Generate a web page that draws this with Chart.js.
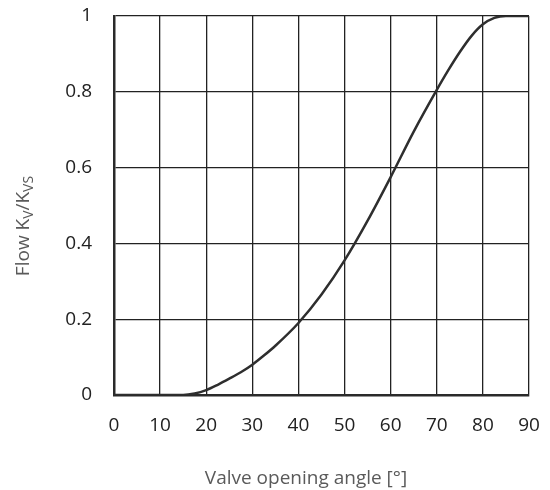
<!DOCTYPE html>
<html>
<head>
<meta charset="utf-8">
<script src="https://cdn.jsdelivr.net/npm/chart.js@4/dist/chart.umd.min.js"></script>
<style>
  html, body { margin: 0; padding: 0; background: #fff; }
  #wrap { width: 550px; height: 490px; }
</style>
</head>
<body>
<div id="wrap"><canvas id="flowChart"></canvas></div>
<script>
// valve opening angle [°] and relative flow Kv/Kvs
var angles = [0, 5, 10, 15, 17.5, 20, 22.5, 25, 27.5, 30, 32.5, 35, 40, 45, 50, 55, 60, 65, 70, 72.5, 75, 77.5, 80, 82.5, 85, 90];
var flow   = [0, 0, 0, 0, 0.004, 0.013, 0.027, 0.043, 0.06, 0.08, 0.104, 0.13, 0.19, 0.265, 0.355, 0.46, 0.575, 0.695, 0.805, 0.857, 0.905, 0.947, 0.978, 0.995, 1, 1];

var xTitle = 'Valve opening angle [°]';
// y title pieces: [text, subscript?]
var yTitle = [['Flow K', false], ['V', true], ['/K', false], ['VS', true]];

var points = angles.map(function (a, i) { return { x: a, y: flow[i] }; });

var FONT = '"Open Sans", "Noto Sans", sans-serif';

// draws the axis titles (the y one has subscripts)
var titlesPlugin = {
  id: 'axisTitles',
  afterDraw: function (chart) {
    var ctx = chart.ctx;
    ctx.save();
    ctx.fillStyle = '#5a5a5a';
    ctx.font = '19px ' + FONT;
    ctx.textAlign = 'center';
    ctx.textBaseline = 'middle';
    ctx.fillText(xTitle, 306, 479);

    // y title, rotated
    var big = '19px ' + FONT, small = '14px ' + FONT;
    var total = 0;
    yTitle.forEach(function (p) {
      ctx.font = p[1] ? small : big;
      total += ctx.measureText(p[0]).width;
    });
    ctx.translate(29, 226);
    ctx.rotate(-Math.PI / 2);
    ctx.textAlign = 'left';
    ctx.textBaseline = 'alphabetic';
    var x = -total / 2;
    yTitle.forEach(function (p) {
      ctx.font = p[1] ? small : big;
      ctx.fillText(p[0], x, p[1] ? 4 : 0);
      x += ctx.measureText(p[0]).width;
    });
    ctx.restore();
  }
};

var ctx = document.getElementById('flowChart').getContext('2d');
var myChart = new Chart(ctx, {
  type: 'line',
  data: {
    datasets: [{
      data: points,
      borderColor: '#2e2e2e',
      borderWidth: 2.5,
      pointRadius: 0,
      fill: false,
      cubicInterpolationMode: 'monotone'
    }]
  },
  options: {
    responsive: true,
    maintainAspectRatio: false,
    animation: false,
    layout: { padding: { left: 0, right: 21, top: 16, bottom: 0 } },
    plugins: {
      legend: { display: false },
      tooltip: { enabled: false }
    },
    scales: {
      x: {
        type: 'linear',
        min: 0,
        max: 90,
        ticks: { stepSize: 10, color: '#222', padding: 19, font: { family: FONT, size: 19 } },
        grid: { color: '#222', lineWidth: 1.3, drawTicks: false },
        border: { color: '#2a2a2a', width: 2.5 },
        afterFit: function (s) { s.height = 95; s.paddingLeft = 0; s.paddingRight = 0; }
      },
      y: {
        min: 0,
        max: 1,
        ticks: {
          stepSize: 0.2, color: '#222', padding: 22, font: { family: FONT, size: 19 },
          callback: function (v) { return String(+v.toFixed(1)); }
        },
        grid: { color: '#222', lineWidth: 1.3, drawTicks: false },
        border: { color: '#2a2a2a', width: 2.5 },
        afterFit: function (s) { s.width = 114; s.paddingTop = 0; s.paddingBottom = 0; }
      }
    }
  },
  plugins: [titlesPlugin]
});
</script>
</body>
</html>
